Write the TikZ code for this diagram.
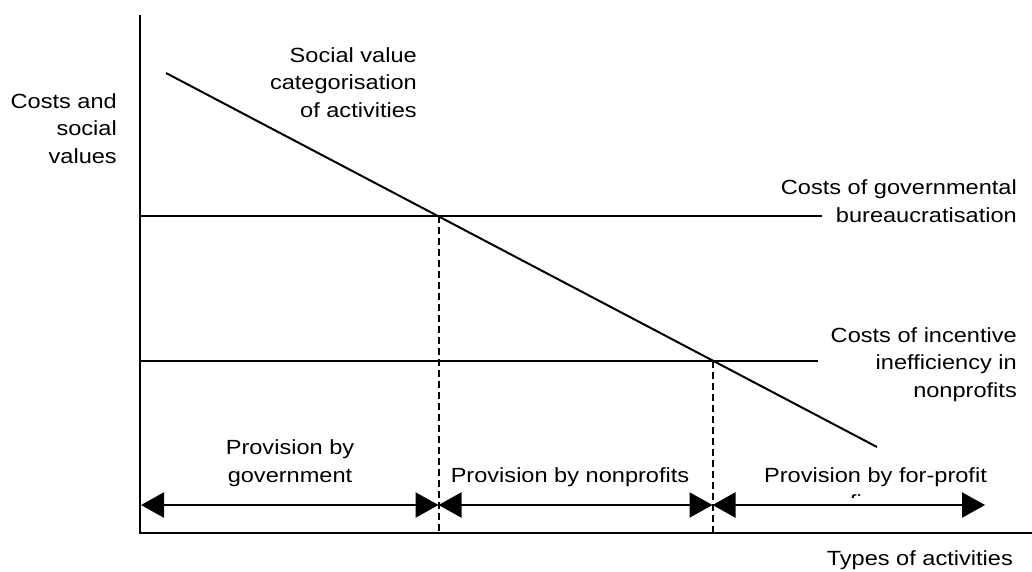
\documentclass[tikz,border=0pt]{standalone}
\usepackage{fontspec}
\setmainfont[FakeStretch=1.15]{Liberation Sans}
\usetikzlibrary{arrows.meta}
\begin{document}
\begin{tikzpicture}[x=1pt,y=-1pt,
  lbl/.style={inner sep=0pt, font=\fontsize{20.5}{27.5}\selectfont},
  axis/.style={line width=2.2pt},
  curve/.style={line width=2pt},
  guide/.style={line width=2pt, dash pattern=on 7pt off 4pt},
  span/.style={line width=2.2pt,
    {Triangle[length=23pt,width=25pt]}-{Triangle[length=23pt,width=25pt]}}]
\useasboundingbox (0,0) rectangle (1032,571);

% axes
\coordinate (ytop) at (140,15);
\coordinate (O) at (140,533);
\coordinate (xend) at (1032,533);
\draw[axis] (ytop) -- (O) -- (xend);

% social value line and the two cost levels
\coordinate (sv0) at (166,73);
\coordinate (sv1) at (877,447);
\draw[curve] (sv0) -- (sv1);
\coordinate (g0) at (140,216);
\coordinate (g1) at (822,216);
\draw[curve] (g0) -- (g1);
\coordinate (n0) at (140,361);
\coordinate (n1) at (818,361);
\draw[curve] (n0) -- (n1);

% crossing points and their drop lines
\coordinate (p1) at (438.5,216);
\coordinate (p2) at (712.5,361);
\draw[guide] (p1) -- (p1 |- O);
\draw[guide] (p2) -- (p2 |- O);

% ranges of provision
\coordinate (a0) at (141,505);
\coordinate (a1) at (438.5,505);
\coordinate (a2) at (712.5,505);
\coordinate (a3) at (985,505);
\draw[span] (a0) -- (a1);
\draw[span] (a1) -- (a2);
\draw[span] (a2) -- (a3);

% labels (base anchor sits on the last line)
\node[lbl, anchor=base east, align=right] (ylab) at (117,163)
  {Costs and\\social\\values};
\node[lbl, anchor=base east, align=right] (svlab) at (417,117)
  {Social value\\categorisation\\of activities};
\node[lbl, anchor=base east, align=right] (glab) at (1017,222)
  {Costs of governmental\\bureaucratisation};
\node[lbl, anchor=base east, align=right] (nlab) at (1017,397)
  {Costs of incentive\\inefficiency in\\nonprofits};
\node[lbl, anchor=base, align=center] (govlab) at (290,482)
  {Provision by\\government};
\node[lbl, anchor=base] (nplab) at (570,482) {Provision by nonprofits};
\node[lbl, anchor=base] (fplab) at (875.5,482) {Provision by for-profit};
\begin{scope}
  \clip (760,485) rectangle (1000,497.5);
  \node[lbl, anchor=base] (fplab2) at (875.5,509.5) {firms};
\end{scope}
\node[lbl, anchor=base east] (xlab) at (1013,565) {Types of activities};
\end{tikzpicture}
\end{document}
